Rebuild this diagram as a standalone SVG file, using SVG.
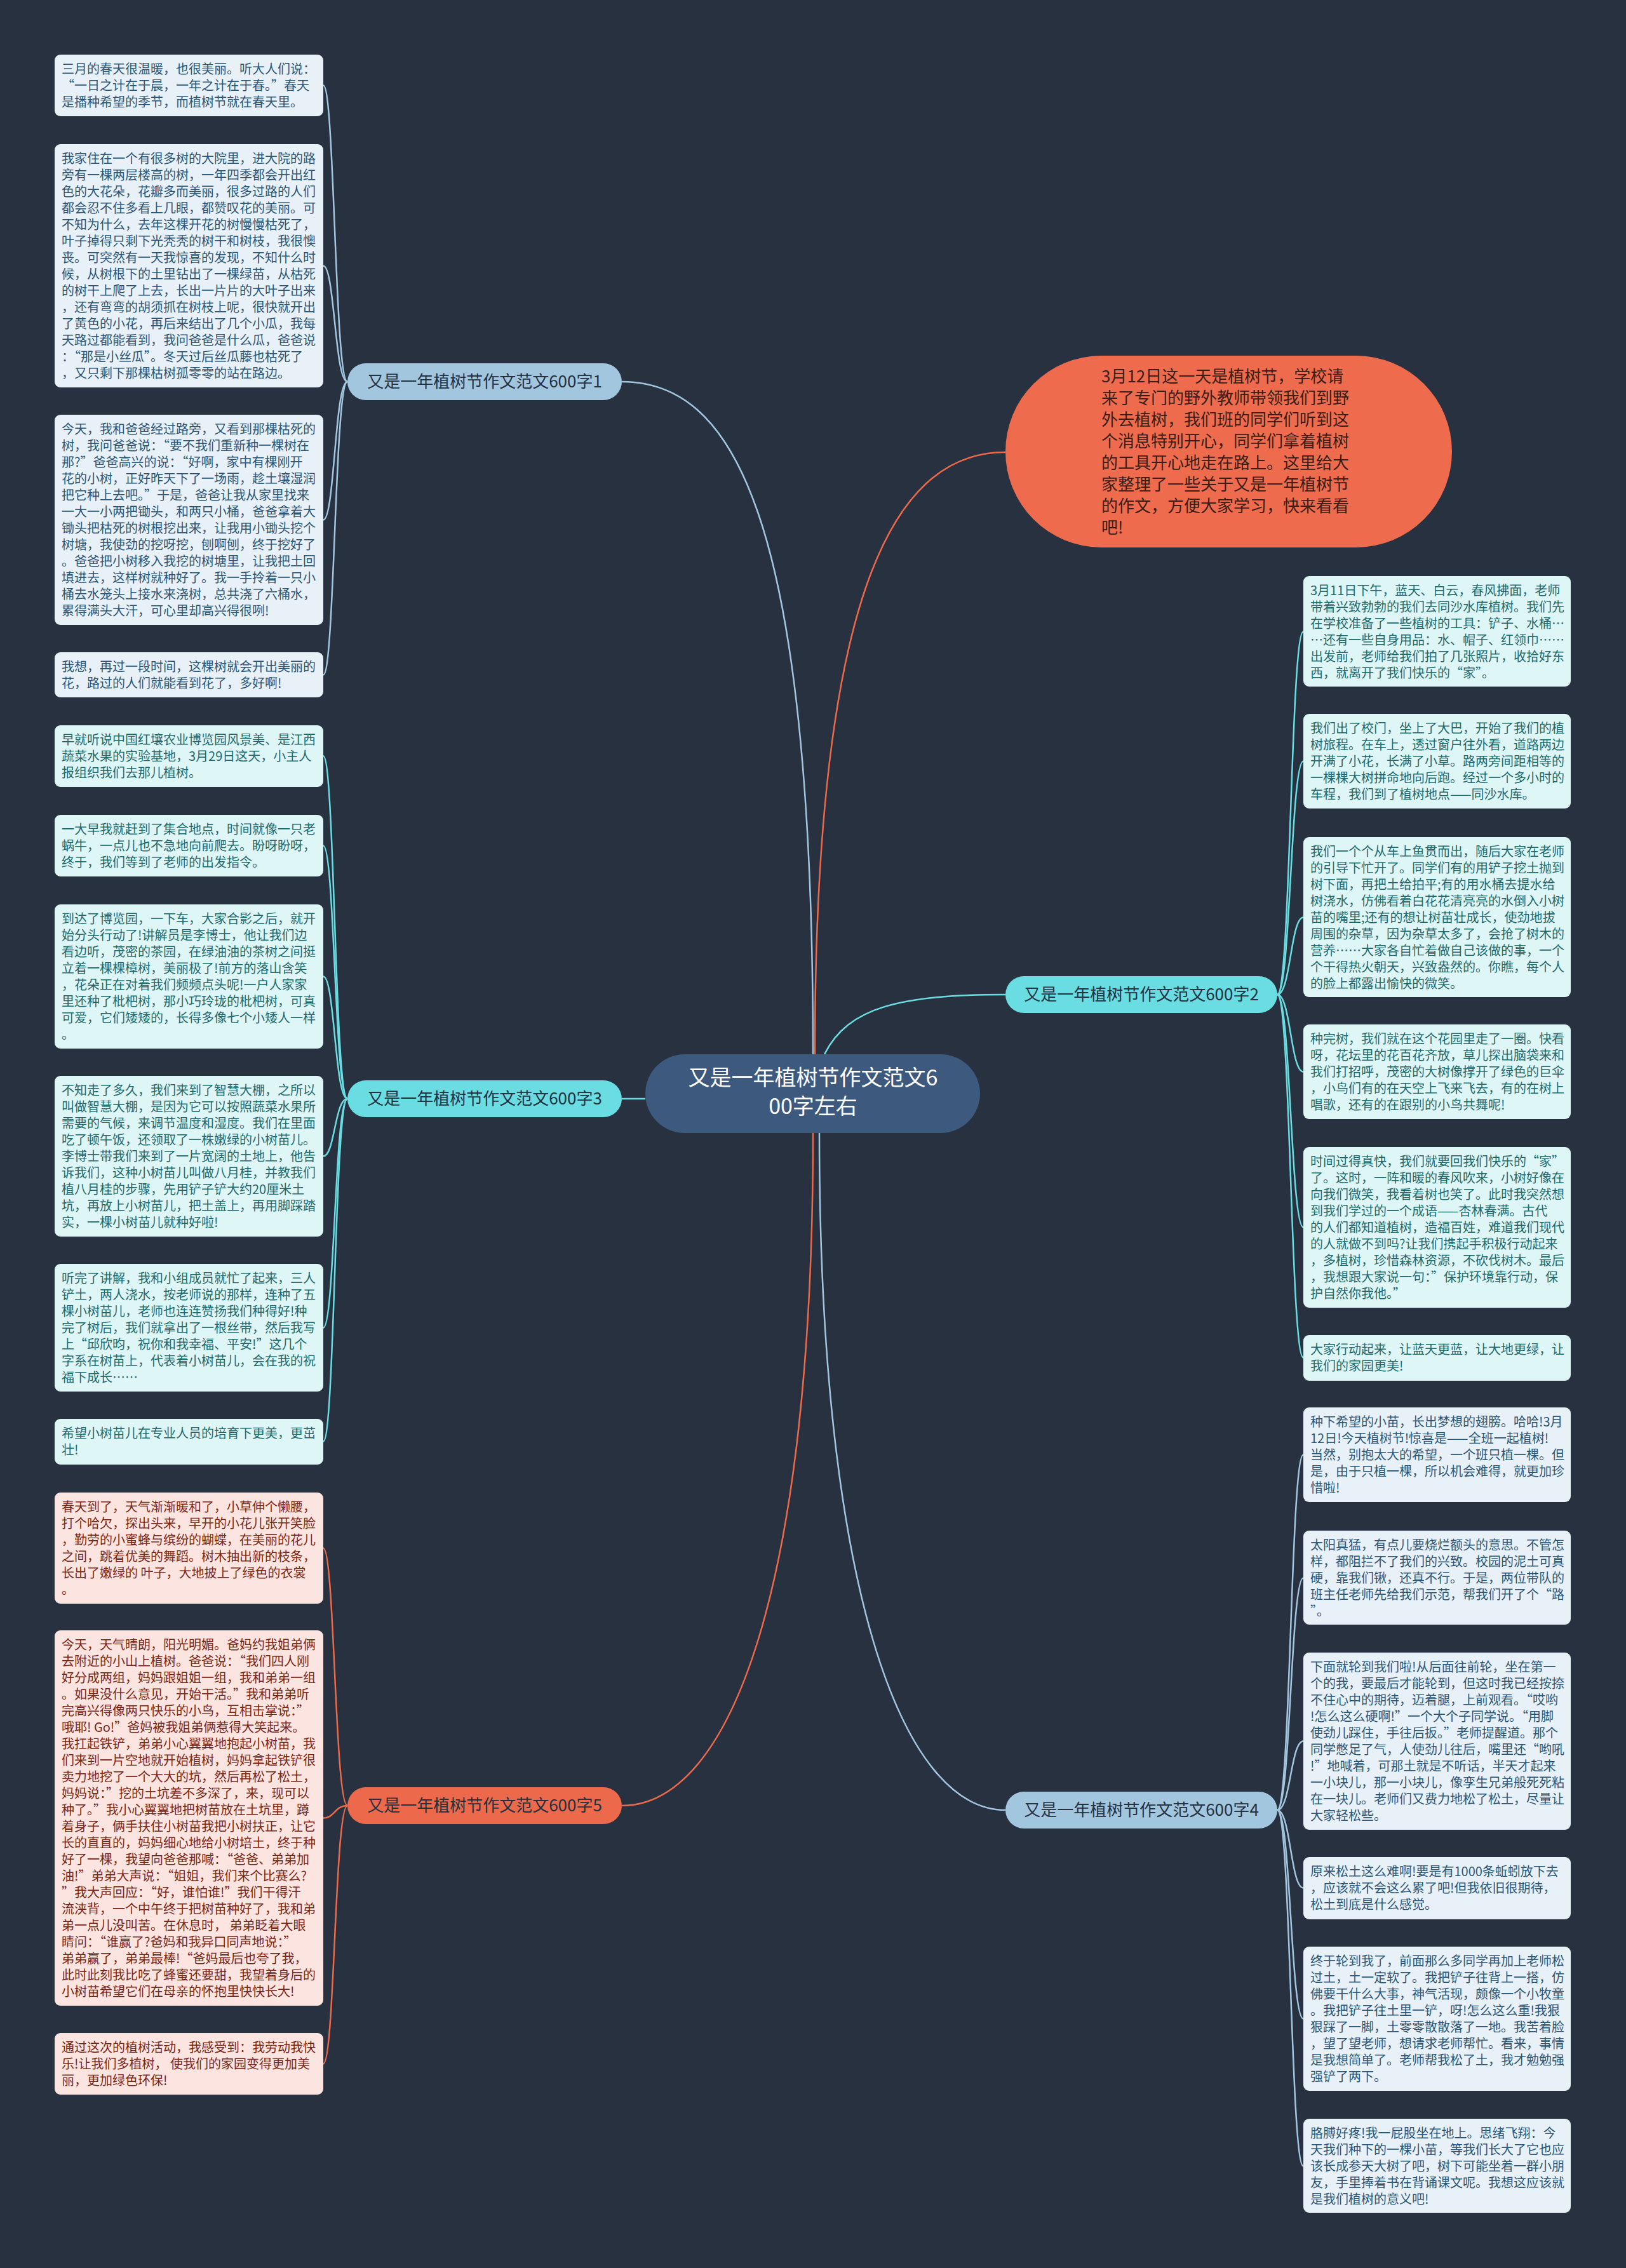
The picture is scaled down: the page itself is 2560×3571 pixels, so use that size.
<svg xmlns="http://www.w3.org/2000/svg" width="2560" height="3571" viewBox="0 0 2560 3571">
<style>
text{font-family:"Noto Sans CJK SC","Noto Sans",sans-serif}
.t{font-size:20px}
.lb{fill:#e8f1f8}.lbt{fill:#2b5677}
.cy{fill:#dff6f7}.cyt{fill:#1d6a6e}
.pk{fill:#fce5e0}.pkt{fill:#7a2617}
.lab{font-size:26px;text-anchor:middle;fill:#24313f}
.c{fill:none;stroke-width:2.5}
.cb{stroke:#a3c6df}.cc{stroke:#69dde1}.co{stroke:#ec6a4b}
</style>
<rect width="2560" height="3571" fill="#283140"/>
<g id="connectors">
<path class="c cb" d="M979 601 C1150 601 1280 800 1280 1660"/>
<path class="c co" d="M1583 712 C1420 712 1283 900 1283 1660"/>
<path class="c cc" d="M1298 1660 C1335 1585 1420 1566 1583 1566"/>
<path class="c cc" d="M1016 1730 L979 1730"/>
<path class="c co" d="M1280 1784 C1280 2500 1150 2843 979 2843"/>
<path class="c cb" d="M1290 1784 C1290 2500 1420 2850 1583 2850"/>
<path class="c cb" d="M547 601 C527 601 527 134.5 509 134.5"/>
<path class="c cb" d="M547 601 C527 601 527 418.5 509 418.5"/>
<path class="c cb" d="M547 601 C527 601 527 818.5 509 818.5"/>
<path class="c cb" d="M547 601 C527 601 527 1062.5 509 1062.5"/>
<path class="c cc" d="M547 1730 C527 1730 527 1190.5 509 1190.5"/>
<path class="c cc" d="M547 1730 C527 1730 527 1331.5 509 1331.5"/>
<path class="c cc" d="M547 1730 C527 1730 527 1537.5 509 1537.5"/>
<path class="c cc" d="M547 1730 C527 1730 527 1820.5 509 1820.5"/>
<path class="c cc" d="M547 1730 C527 1730 527 2090.5 509 2090.5"/>
<path class="c cc" d="M547 1730 C527 1730 527 2269.5 509 2269.5"/>
<path class="c co" d="M547 2843 C527 2843 527 2437.5 509 2437.5"/>
<path class="c co" d="M547 2843 C527 2843 527 2862.5 509 2862.5"/>
<path class="c co" d="M547 2843 C527 2843 527 3249.5 509 3249.5"/>
<path class="c cc" d="M2011 1566 C2032 1566 2032 994.5 2052 994.5"/>
<path class="c cc" d="M2011 1566 C2032 1566 2032 1198.5 2052 1198.5"/>
<path class="c cc" d="M2011 1566 C2032 1566 2032 1444.5 2052 1444.5"/>
<path class="c cc" d="M2011 1566 C2032 1566 2032 1687.5 2052 1687.5"/>
<path class="c cc" d="M2011 1566 C2032 1566 2032 1932.5 2052 1932.5"/>
<path class="c cc" d="M2011 1566 C2032 1566 2032 2137.5 2052 2137.5"/>
<path class="c cb" d="M2011 2850 C2032 2850 2032 2290.5 2052 2290.5"/>
<path class="c cb" d="M2011 2850 C2032 2850 2032 2484.5 2052 2484.5"/>
<path class="c cb" d="M2011 2850 C2032 2850 2032 2741.5 2052 2741.5"/>
<path class="c cb" d="M2011 2850 C2032 2850 2032 2972.5 2052 2972.5"/>
<path class="c cb" d="M2011 2850 C2032 2850 2032 3178.5 2052 3178.5"/>
<path class="c cb" d="M2011 2850 C2032 2850 2032 3410.5 2052 3410.5"/>
</g>
<g id="center"><rect x="1016" y="1660" width="527" height="124" rx="62" fill="#3d5a7e"/><text x="1280" y="1709" font-size="34" text-anchor="middle" fill="#ffffff"><tspan x="1280">又是一年植树节作文范文6</tspan><tspan x="1280" dy="45">00字左右</tspan></text></g>
<g id="intro"><rect x="1583" y="560" width="703" height="302" rx="151" fill="#ee6c4d"/><text x="1734" y="602" font-size="26" fill="#3a1d15"><tspan x="1734">3月12日这一天是植树节，学校请</tspan><tspan x="1734" dy="34">来了专门的野外教师带领我们到野</tspan><tspan x="1734" dy="34">外去植树，我们班的同学们听到这</tspan><tspan x="1734" dy="34">个消息特别开心，同学们拿着植树</tspan><tspan x="1734" dy="34">的工具开心地走在路上。这里给大</tspan><tspan x="1734" dy="34">家整理了一些关于又是一年植树节</tspan><tspan x="1734" dy="34">的作文，方便大家学习，快来看看</tspan><tspan x="1734" dy="34">吧!</tspan></text></g>
<g id="b1"><rect x="547" y="572" width="432" height="58" rx="29" fill="#a3c6df"/><text class="lab" x="763" y="610">又是一年植树节作文范文600字1</text></g>
<g id="b3"><rect x="547" y="1701" width="432" height="58" rx="29" fill="#69dde1"/><text class="lab" x="763" y="1739">又是一年植树节作文范文600字3</text></g>
<g id="b5"><rect x="547" y="2814" width="432" height="58" rx="29" fill="#ec6a4b"/><text class="lab" x="763" y="2852">又是一年植树节作文范文600字5</text></g>
<g id="b2"><rect x="1583" y="1537" width="428" height="58" rx="29" fill="#69dde1"/><text class="lab" x="1797" y="1575">又是一年植树节作文范文600字2</text></g>
<g id="b4"><rect x="1583" y="2821" width="428" height="58" rx="29" fill="#a3c6df"/><text class="lab" x="1797" y="2859">又是一年植树节作文范文600字4</text></g>

<g id="l1"><rect class="lb" x="86" y="86" width="423" height="97" rx="9"/><text class="t lbt" y="116"><tspan x="97">三月的春天很温暖，也很美丽。听大人们说：</tspan><tspan x="97" dy="26">“一日之计在于晨，一年之计在于春。”春天</tspan><tspan x="97" dy="26">是播种希望的季节，而植树节就在春天里。</tspan></text></g>
<g id="l2"><rect class="lb" x="86" y="227" width="423" height="383" rx="9"/><text class="t lbt" y="257"><tspan x="97">我家住在一个有很多树的大院里，进大院的路</tspan><tspan x="97" dy="26">旁有一棵两层楼高的树，一年四季都会开出红</tspan><tspan x="97" dy="26">色的大花朵，花瓣多而美丽，很多过路的人们</tspan><tspan x="97" dy="26">都会忍不住多看上几眼，都赞叹花的美丽。可</tspan><tspan x="97" dy="26">不知为什么，去年这棵开花的树慢慢枯死了，</tspan><tspan x="97" dy="26">叶子掉得只剩下光秃秃的树干和树枝，我很懊</tspan><tspan x="97" dy="26">丧。可突然有一天我惊喜的发现，不知什么时</tspan><tspan x="97" dy="26">候，从树根下的土里钻出了一棵绿苗，从枯死</tspan><tspan x="97" dy="26">的树干上爬了上去，长出一片片的大叶子出来</tspan><tspan x="97" dy="26">，还有弯弯的胡须抓在树枝上呢，很快就开出</tspan><tspan x="97" dy="26">了黄色的小花，再后来结出了几个小瓜，我每</tspan><tspan x="97" dy="26">天路过都能看到，我问爸爸是什么瓜，爸爸说</tspan><tspan x="97" dy="26">：“那是小丝瓜”。冬天过后丝瓜藤也枯死了</tspan><tspan x="97" dy="26">，又只剩下那棵枯树孤零零的站在路边。</tspan></text></g>
<g id="l3"><rect class="lb" x="86" y="653" width="423" height="331" rx="9"/><text class="t lbt" y="683"><tspan x="97">今天，我和爸爸经过路旁，又看到那棵枯死的</tspan><tspan x="97" dy="26">树，我问爸爸说：“要不我们重新种一棵树在</tspan><tspan x="97" dy="26">那?”爸爸高兴的说：“好啊，家中有棵刚开</tspan><tspan x="97" dy="26">花的小树，正好昨天下了一场雨，趁土壤湿润</tspan><tspan x="97" dy="26">把它种上去吧。”于是，爸爸让我从家里找来</tspan><tspan x="97" dy="26">一大一小两把锄头，和两只小桶，爸爸拿着大</tspan><tspan x="97" dy="26">锄头把枯死的树根挖出来，让我用小锄头挖个</tspan><tspan x="97" dy="26">树塘，我使劲的挖呀挖，刨啊刨，终于挖好了</tspan><tspan x="97" dy="26">。爸爸把小树移入我挖的树塘里，让我把土回</tspan><tspan x="97" dy="26">填进去，这样树就种好了。我一手拎着一只小</tspan><tspan x="97" dy="26">桶去水笼头上接水来浇树，总共浇了六桶水，</tspan><tspan x="97" dy="26">累得满头大汗，可心里却高兴得很咧!</tspan></text></g>
<g id="l4"><rect class="lb" x="86" y="1027" width="423" height="71" rx="9"/><text class="t lbt" y="1057"><tspan x="97">我想，再过一段时间，这棵树就会开出美丽的</tspan><tspan x="97" dy="26">花，路过的人们就能看到花了，多好啊!</tspan></text></g>

<g id="l5"><rect class="cy" x="86" y="1142" width="423" height="97" rx="9"/><text class="t cyt" y="1172"><tspan x="97">早就听说中国红壤农业博览园风景美、是江西</tspan><tspan x="97" dy="26">蔬菜水果的实验基地，3月29日这天，小主人</tspan><tspan x="97" dy="26">报组织我们去那儿植树。</tspan></text></g>
<g id="l6"><rect class="cy" x="86" y="1283" width="423" height="97" rx="9"/><text class="t cyt" y="1313"><tspan x="97">一大早我就赶到了集合地点，时间就像一只老</tspan><tspan x="97" dy="26">蜗牛，一点儿也不急地向前爬去。盼呀盼呀，</tspan><tspan x="97" dy="26">终于，我们等到了老师的出发指令。</tspan></text></g>
<g id="l7"><rect class="cy" x="86" y="1424" width="423" height="227" rx="9"/><text class="t cyt" y="1454"><tspan x="97">到达了博览园，一下车，大家合影之后，就开</tspan><tspan x="97" dy="26">始分头行动了!讲解员是李博士，他让我们边</tspan><tspan x="97" dy="26">看边听，茂密的茶园，在绿油油的茶树之间挺</tspan><tspan x="97" dy="26">立着一棵棵樟树，美丽极了!前方的落山含笑</tspan><tspan x="97" dy="26">，花朵正在对着我们频频点头呢!一户人家家</tspan><tspan x="97" dy="26">里还种了枇杷树，那小巧玲珑的枇杷树，可真</tspan><tspan x="97" dy="26">可爱，它们矮矮的，长得多像七个小矮人一样</tspan><tspan x="97" dy="26">。</tspan></text></g>
<g id="l8"><rect class="cy" x="86" y="1694" width="423" height="253" rx="9"/><text class="t cyt" y="1724"><tspan x="97">不知走了多久，我们来到了智慧大棚，之所以</tspan><tspan x="97" dy="26">叫做智慧大棚，是因为它可以按照蔬菜水果所</tspan><tspan x="97" dy="26">需要的气候，来调节温度和湿度。我们在里面</tspan><tspan x="97" dy="26">吃了顿午饭，还领取了一株嫩绿的小树苗儿。</tspan><tspan x="97" dy="26">李博士带我们来到了一片宽阔的土地上，他告</tspan><tspan x="97" dy="26">诉我们，这种小树苗儿叫做八月桂，并教我们</tspan><tspan x="97" dy="26">植八月桂的步骤，先用铲子铲大约20厘米土</tspan><tspan x="97" dy="26">坑，再放上小树苗儿，把土盖上，再用脚踩踏</tspan><tspan x="97" dy="26">实，一棵小树苗儿就种好啦!</tspan></text></g>
<g id="l9"><rect class="cy" x="86" y="1990" width="423" height="201" rx="9"/><text class="t cyt" y="2020"><tspan x="97">听完了讲解，我和小组成员就忙了起来，三人</tspan><tspan x="97" dy="26">铲土，两人浇水，按老师说的那样，连种了五</tspan><tspan x="97" dy="26">棵小树苗儿，老师也连连赞扬我们种得好!种</tspan><tspan x="97" dy="26">完了树后，我们就拿出了一根丝带，然后我写</tspan><tspan x="97" dy="26">上“邱欣昀，祝你和我幸福、平安!”这几个</tspan><tspan x="97" dy="26">字系在树苗上，代表着小树苗儿，会在我的祝</tspan><tspan x="97" dy="26">福下成长……</tspan></text></g>
<g id="l10"><rect class="cy" x="86" y="2234" width="423" height="72" rx="9"/><text class="t cyt" y="2264"><tspan x="97">希望小树苗儿在专业人员的培育下更美，更茁</tspan><tspan x="97" dy="26">壮!</tspan></text></g>

<g id="l11"><rect class="pk" x="86" y="2350" width="423" height="175" rx="9"/><text class="t pkt" y="2380"><tspan x="97">春天到了，天气渐渐暖和了，小草伸个懒腰，</tspan><tspan x="97" dy="26">打个哈欠，探出头来，早开的小花儿张开笑脸</tspan><tspan x="97" dy="26">，勤劳的小蜜蜂与缤纷的蝴蝶，在美丽的花儿</tspan><tspan x="97" dy="26">之间，跳着优美的舞蹈。树木抽出新的枝条，</tspan><tspan x="97" dy="26">长出了嫩绿的 叶子，大地披上了绿色的衣裳</tspan><tspan x="97" dy="26">。</tspan></text></g>
<g id="l12"><rect class="pk" x="86" y="2567" width="423" height="591" rx="9"/><text class="t pkt" y="2597"><tspan x="97">今天，天气晴朗，阳光明媚。爸妈约我姐弟俩</tspan><tspan x="97" dy="26">去附近的小山上植树。爸爸说：“我们四人刚</tspan><tspan x="97" dy="26">好分成两组，妈妈跟姐姐一组，我和弟弟一组</tspan><tspan x="97" dy="26">。如果没什么意见，开始干活。”我和弟弟听</tspan><tspan x="97" dy="26">完高兴得像两只快乐的小鸟，互相击掌说：”</tspan><tspan x="97" dy="26">哦耶! Go!”爸妈被我姐弟俩惹得大笑起来。</tspan><tspan x="97" dy="26">我扛起铁铲，弟弟小心翼翼地抱起小树苗，我</tspan><tspan x="97" dy="26">们来到一片空地就开始植树，妈妈拿起铁铲很</tspan><tspan x="97" dy="26">卖力地挖了一个大大的坑，然后再松了松土，</tspan><tspan x="97" dy="26">妈妈说：”挖的土坑差不多深了，来，现可以</tspan><tspan x="97" dy="26">种了。”我小心翼翼地把树苗放在土坑里，蹲</tspan><tspan x="97" dy="26">着身子，俩手扶住小树苗我把小树扶正，让它</tspan><tspan x="97" dy="26">长的直直的，妈妈细心地给小树培土，终于种</tspan><tspan x="97" dy="26">好了一棵，我望向爸爸那喊：“爸爸、弟弟加</tspan><tspan x="97" dy="26">油!”弟弟大声说：“姐姐，我们来个比赛么?</tspan><tspan x="97" dy="26">”我大声回应：“好，谁怕谁!”我们干得汗</tspan><tspan x="97" dy="26">流浃背，一个中午终于把树苗种好了，我和弟</tspan><tspan x="97" dy="26">弟一点儿没叫苦。在休息时， 弟弟眨着大眼</tspan><tspan x="97" dy="26">睛问：“谁赢了?爸妈和我异口同声地说：”</tspan><tspan x="97" dy="26">弟弟赢了，弟弟最棒!“爸妈最后也夸了我，</tspan><tspan x="97" dy="26">此时此刻我比吃了蜂蜜还要甜，我望着身后的</tspan><tspan x="97" dy="26">小树苗希望它们在母亲的怀抱里快快长大!</tspan></text></g>
<g id="l13"><rect class="pk" x="86" y="3201" width="423" height="97" rx="9"/><text class="t pkt" y="3231"><tspan x="97">通过这次的植树活动，我感受到：我劳动我快</tspan><tspan x="97" dy="26">乐!让我们多植树， 使我们的家园变得更加美</tspan><tspan x="97" dy="26">丽，更加绿色环保!</tspan></text></g>

<g id="r1"><rect class="cy" x="2052" y="907" width="421" height="174" rx="9"/><text class="t cyt" y="937"><tspan x="2063">3月11日下午，蓝天、白云，春风拂面，老师</tspan><tspan x="2063" dy="26">带着兴致勃勃的我们去同沙水库植树。我们先</tspan><tspan x="2063" dy="26">在学校准备了一些植树的工具：铲子、水桶…</tspan><tspan x="2063" dy="26">…还有一些自身用品：水、帽子、红领巾……</tspan><tspan x="2063" dy="26">出发前，老师给我们拍了几张照片，收拾好东</tspan><tspan x="2063" dy="26">西，就离开了我们快乐的“家”。</tspan></text></g>
<g id="r2"><rect class="cy" x="2052" y="1124" width="421" height="149" rx="9"/><text class="t cyt" y="1154"><tspan x="2063">我们出了校门，坐上了大巴，开始了我们的植</tspan><tspan x="2063" dy="26">树旅程。在车上，透过窗户往外看，道路两边</tspan><tspan x="2063" dy="26">开满了小花，长满了小草。路两旁间距相等的</tspan><tspan x="2063" dy="26">一棵棵大树拼命地向后跑。经过一个多小时的</tspan><tspan x="2063" dy="26">车程，我们到了植树地点——同沙水库。</tspan></text></g>
<g id="r3"><rect class="cy" x="2052" y="1318" width="421" height="252" rx="9"/><text class="t cyt" y="1348"><tspan x="2063">我们一个个从车上鱼贯而出，随后大家在老师</tspan><tspan x="2063" dy="26">的引导下忙开了。同学们有的用铲子挖土抛到</tspan><tspan x="2063" dy="26">树下面，再把土给拍平;有的用水桶去提水给</tspan><tspan x="2063" dy="26">树浇水，仿佛看着白花花清亮亮的水倒入小树</tspan><tspan x="2063" dy="26">苗的嘴里;还有的想让树苗壮成长，使劲地拔</tspan><tspan x="2063" dy="26">周围的杂草，因为杂草太多了，会抢了树木的</tspan><tspan x="2063" dy="26">营养……大家各自忙着做自己该做的事，一个</tspan><tspan x="2063" dy="26">个干得热火朝天，兴致盎然的。你瞧，每个人</tspan><tspan x="2063" dy="26">的脸上都露出愉快的微笑。</tspan></text></g>
<g id="r4"><rect class="cy" x="2052" y="1613" width="421" height="149" rx="9"/><text class="t cyt" y="1643"><tspan x="2063">种完树，我们就在这个花园里走了一圈。快看</tspan><tspan x="2063" dy="26">呀，花坛里的花百花齐放，草儿探出脑袋来和</tspan><tspan x="2063" dy="26">我们打招呼，茂密的大树像撑开了绿色的巨伞</tspan><tspan x="2063" dy="26">，小鸟们有的在天空上飞来飞去，有的在树上</tspan><tspan x="2063" dy="26">唱歌，还有的在跟别的小鸟共舞呢!</tspan></text></g>
<g id="r5"><rect class="cy" x="2052" y="1806" width="421" height="253" rx="9"/><text class="t cyt" y="1836"><tspan x="2063">时间过得真快，我们就要回我们快乐的“家”</tspan><tspan x="2063" dy="26">了。这时，一阵和暖的春风吹来，小树好像在</tspan><tspan x="2063" dy="26">向我们微笑，我看着树也笑了。此时我突然想</tspan><tspan x="2063" dy="26">到我们学过的一个成语——杏林春满。古代</tspan><tspan x="2063" dy="26">的人们都知道植树，造福百姓，难道我们现代</tspan><tspan x="2063" dy="26">的人就做不到吗?让我们携起手积极行动起来</tspan><tspan x="2063" dy="26">，多植树，珍惜森林资源，不砍伐树木。最后</tspan><tspan x="2063" dy="26">，我想跟大家说一句：”保护环境靠行动，保</tspan><tspan x="2063" dy="26">护自然你我他。”</tspan></text></g>
<g id="r6"><rect class="cy" x="2052" y="2102" width="421" height="72" rx="9"/><text class="t cyt" y="2132"><tspan x="2063">大家行动起来，让蓝天更蓝，让大地更绿，让</tspan><tspan x="2063" dy="26">我们的家园更美!</tspan></text></g>

<g id="r7"><rect class="lb" x="2052" y="2216" width="421" height="149" rx="9"/><text class="t lbt" y="2246"><tspan x="2063">种下希望的小苗，长出梦想的翅膀。哈哈!3月</tspan><tspan x="2063" dy="26">12日!今天植树节!惊喜是——全班一起植树!</tspan><tspan x="2063" dy="26">当然，别抱太大的希望，一个班只植一棵。但</tspan><tspan x="2063" dy="26">是，由于只植一棵，所以机会难得，就更加珍</tspan><tspan x="2063" dy="26">惜啦!</tspan></text></g>
<g id="r8"><rect class="lb" x="2052" y="2410" width="421" height="148" rx="9"/><text class="t lbt" y="2440"><tspan x="2063">太阳真猛，有点儿要烧烂额头的意思。不管怎</tspan><tspan x="2063" dy="26">样，都阻拦不了我们的兴致。校园的泥土可真</tspan><tspan x="2063" dy="26">硬，靠我们锹，还真不行。于是，两位带队的</tspan><tspan x="2063" dy="26">班主任老师先给我们示范，帮我们开了个“路</tspan><tspan x="2063" dy="26">”。</tspan></text></g>
<g id="r9"><rect class="lb" x="2052" y="2602" width="421" height="279" rx="9"/><text class="t lbt" y="2632"><tspan x="2063">下面就轮到我们啦!从后面往前轮，坐在第一</tspan><tspan x="2063" dy="26">个的我，要最后才能轮到，但这时我已经按捺</tspan><tspan x="2063" dy="26">不住心中的期待，迈着腿，上前观看。“哎哟</tspan><tspan x="2063" dy="26">!怎么这么硬啊!”一个大个子同学说。“用脚</tspan><tspan x="2063" dy="26">使劲儿踩住，手往后扳。”老师提醒道。那个</tspan><tspan x="2063" dy="26">同学憋足了气，人使劲儿往后，嘴里还“哟吼</tspan><tspan x="2063" dy="26">!”地喊着，可那土就是不听话，半天才起来</tspan><tspan x="2063" dy="26">一小块儿，那一小块儿，像孪生兄弟般死死粘</tspan><tspan x="2063" dy="26">在一块儿。老师们又费力地松了松土，尽量让</tspan><tspan x="2063" dy="26">大家轻松些。</tspan></text></g>
<g id="r10"><rect class="lb" x="2052" y="2924" width="421" height="98" rx="9"/><text class="t lbt" y="2954"><tspan x="2063">原来松土这么难啊!要是有1000条蚯蚓放下去</tspan><tspan x="2063" dy="26">，应该就不会这么累了吧!但我依旧很期待，</tspan><tspan x="2063" dy="26">松土到底是什么感觉。</tspan></text></g>
<g id="r11"><rect class="lb" x="2052" y="3065" width="421" height="227" rx="9"/><text class="t lbt" y="3095"><tspan x="2063">终于轮到我了，前面那么多同学再加上老师松</tspan><tspan x="2063" dy="26">过土，土一定软了。我把铲子往背上一搭，仿</tspan><tspan x="2063" dy="26">佛要干什么大事，神气活现，颇像一个小牧童</tspan><tspan x="2063" dy="26">。我把铲子往土里一铲，呀!怎么这么重!我狠</tspan><tspan x="2063" dy="26">狠踩了一脚，土零零散散落了一地。我苦着脸</tspan><tspan x="2063" dy="26">，望了望老师，想请求老师帮忙。看来，事情</tspan><tspan x="2063" dy="26">是我想简单了。老师帮我松了土，我才勉勉强</tspan><tspan x="2063" dy="26">强铲了两下。</tspan></text></g>
<g id="r12"><rect class="lb" x="2052" y="3336" width="421" height="148" rx="9"/><text class="t lbt" y="3366"><tspan x="2063">胳膊好疼!我一屁股坐在地上。思绪飞翔：今</tspan><tspan x="2063" dy="26">天我们种下的一棵小苗，等我们长大了它也应</tspan><tspan x="2063" dy="26">该长成参天大树了吧，树下可能坐着一群小朋</tspan><tspan x="2063" dy="26">友，手里捧着书在背诵课文呢。我想这应该就</tspan><tspan x="2063" dy="26">是我们植树的意义吧!</tspan></text></g>
</svg>
